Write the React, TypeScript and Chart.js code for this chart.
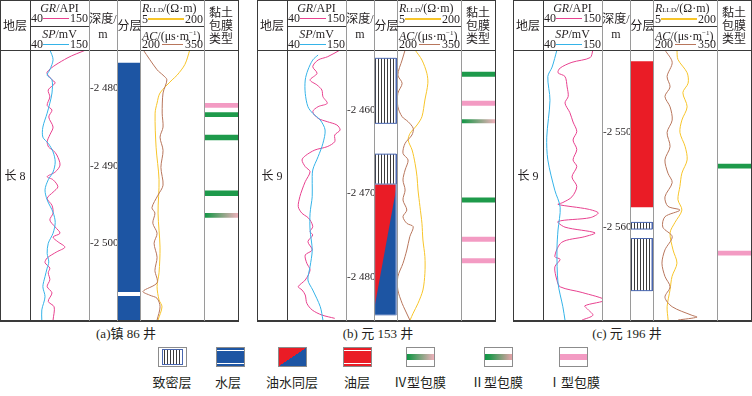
import React, { useEffect, useRef } from "react";
import { Chart, registerables } from "chart.js";
Chart.register(...registerables);

const SERIF = '"Liberation Serif", "Times New Roman", "Noto Sans CJK SC", serif';

// ---------- colours ----------
const GR_COLOR = "#e8418f";
const SP_COLOR = "#35b3e8";
const R_COLOR = "#f7c52a";
const AC_COLOR = "#b8765c";
const WATER = "#1d55a3";
const OIL = "#ea1c26";
const TIGHT_EDGE = "#4a67b0";
const GREEN = "#1e9a4b";
const PINK = "#f39bc3";
const DARK = "#3a3a3a";
const GRAY = "#9a9a9a";

// ---------- scales from the header ----------
const GR_SCALE = [40, 150];
const SP_SCALE = [40, 150];
const R_SCALE = [5, 200];
const AC_SCALE = [200, 350];

// ---------- Well (a) 镇86 ----------
const A_RANGE = [-2509.9, -2475.05];
const A_TICKS = [-2480, -2490, -2500];
const A_GR_D = [-2475.0, -2476.1, -2477.9, -2478.9, -2479.3, -2480.2, -2481.1, -2482.2, -2482.8, -2483.7, -2485.0, -2486.0, -2486.9, -2487.6, -2488.0, -2488.6, -2489.9, -2490.8, -2491.4, -2491.8, -2492.7, -2493.4, -2494.2, -2495.1, -2496.1, -2497.0, -2497.9, -2498.7, -2499.2, -2499.8, -2500.5, -2501.1, -2501.9, -2502.5, -2503.2, -2503.8, -2504.7, -2505.6, -2506.4, -2507.5, -2508.2, -2509.9];
const A_GR = [146, 109, 72, 81, 87, 74, 77, 72, 81, 75, 83, 77, 72, 75, 83, 90, 96, 87, 72, 83, 92, 83, 72, 81, 83, 77, 87, 96, 83, 92, 105, 90, 72, 68, 77, 74, 77, 72, 81, 74, 85, 83];
const A_SP_D = [-2475.0, -2476.3, -2477.6, -2478.3, -2478.9, -2480.6, -2481.9, -2483.2, -2485.0, -2486.3, -2487.1, -2488.2, -2489.5, -2490.8, -2491.8, -2493.1, -2494.4, -2496.0, -2497.3, -2498.7, -2500.0, -2501.3, -2502.4, -2503.2, -2504.3, -2505.6, -2506.9, -2508.6, -2509.9];
const A_SP = [77, 83, 77, 72, 81, 81, 77, 72, 64, 64, 74, 83, 87, 83, 74, 68, 72, 83, 87, 83, 74, 72, 75, 72, 68, 64, 68, 62, 62];
const A_R_D = [-2475.0, -2476.9, -2478.3, -2478.9, -2480.6, -2481.9, -2483.2, -2487.6, -2491.8, -2496.1, -2500.5, -2503.8, -2505.6, -2507.3, -2508.2, -2509.9];
const A_R = [157, 142, 118, 103, 66, 57, 51, 54, 63, 60, 66, 63, 57, 63, 72, 60];
const A_AC_D = [-2475.0, -2477.6, -2478.3, -2478.9, -2480.6, -2483.2, -2485.0, -2486.3, -2488.0, -2490.2, -2492.5, -2493.8, -2495.4, -2496.1, -2497.4, -2498.7, -2500.0, -2501.8, -2503.5, -2505.1, -2506.2, -2506.7, -2507.1, -2508.2, -2509.9];
const A_AC = [207, 240, 254, 263, 254, 252, 254, 247, 254, 249, 254, 242, 228, 235, 230, 240, 233, 240, 235, 240, 207, 223, 240, 247, 240];
const A_LAYER_KIND = ["water", "water"];
const A_LAYER_TOP = [-2476.7, -2506.8];
const A_LAYER_BASE = [-2506.3, -2509.9];
const A_CLAY_KIND = ["I", "III", "III", "III", "IV"];
const A_CLAY_TOP = [-2481.9, -2483.1, -2486.0, -2493.2, -2496.1];
const A_CLAY_BASE = [-2482.5, -2483.7, -2486.7, -2493.9, -2496.7];

// ---------- Well (b) 元153 ----------
const B_RANGE = [-2485.2, -2452.8];
const B_TICKS = [-2460, -2470, -2480];
const B_GR_D = [-2452.8, -2453.6, -2454.0, -2454.8, -2455.6, -2456.4, -2457.0, -2457.6, -2458.4, -2459.2, -2459.6, -2460.2, -2461.0, -2461.4, -2461.8, -2462.4, -2463.0, -2463.8, -2464.4, -2464.8, -2465.5, -2466.0, -2466.8, -2467.4, -2468.6, -2469.6, -2470.4, -2471.6, -2472.4, -2472.8, -2473.2, -2474.0, -2474.6, -2475.0, -2475.8, -2476.8, -2477.4, -2478.4, -2479.2, -2480.4, -2481.2, -2481.6, -2482.2, -2483.2, -2484.0, -2484.6, -2485.0];
const B_GR = [139, 116, 98, 88, 96, 83, 96, 105, 107, 115, 98, 88, 98, 115, 133, 139, 129, 129, 115, 92, 74, 68, 74, 83, 74, 68, 64, 61, 68, 77, 83, 88, 83, 88, 79, 87, 74, 77, 83, 74, 61, 68, 74, 77, 87, 105, 129];
const B_SP_D = [-2453.4, -2454.0, -2455.2, -2456.4, -2458.0, -2459.6, -2460.4, -2461.2, -2462.4, -2464.0, -2465.6, -2467.2, -2468.8, -2470.4, -2472.4, -2474.4, -2476.8, -2478.8, -2480.4, -2481.6, -2483.6, -2485.2];
const B_SP = [98, 88, 79, 74, 74, 79, 88, 102, 111, 107, 98, 88, 87, 87, 83, 83, 87, 83, 79, 88, 102, 107];
const B_R_D = [-2452.8, -2454.0, -2455.6, -2456.8, -2458.8, -2460.8, -2461.8, -2462.8, -2463.6, -2464.8, -2466.4, -2468.0, -2469.6, -2471.6, -2473.6, -2475.6, -2477.6, -2479.6, -2481.6, -2483.2, -2484.4, -2485.2];
const B_R = [60, 81, 96, 99, 90, 81, 66, 45, 39, 51, 60, 66, 69, 75, 81, 84, 90, 90, 84, 69, 54, 45];
const B_AC_D = [-2452.8, -2454.0, -2455.8, -2456.8, -2458.0, -2459.6, -2460.8, -2461.4, -2462.2, -2463.0, -2464.0, -2465.2, -2466.0, -2467.2, -2468.4, -2469.6, -2470.8, -2472.0, -2472.8, -2473.6, -2474.0, -2475.2, -2476.8, -2478.4, -2480.0, -2481.6, -2483.2, -2484.0, -2485.2];
const B_AC = [219, 212, 202, 212, 202, 202, 212, 226, 238, 235, 219, 214, 226, 219, 214, 219, 214, 223, 214, 223, 238, 230, 223, 214, 202, 202, 212, 219, 230];
const B_LAYER_KIND = ["tight", "tight", "oilwater"];
const B_LAYER_TOP = [-2453.8, -2465.3, -2468.9];
const B_LAYER_BASE = [-2461.6, -2468.9, -2484.6];
const B_OILWATER_SPLIT = -2484.0;
const B_CLAY_KIND = ["III", "I", "IV", "III", "I", "I"];
const B_CLAY_TOP = [-2455.4, -2458.9, -2461.1, -2470.5, -2475.2, -2477.8];
const B_CLAY_BASE = [-2456.0, -2459.5, -2461.6, -2471.1, -2475.8, -2478.4];

// ---------- Well (c) 元196 ----------
const C_RANGE = [-2569.8, -2541.3];
const C_TICKS = [-2550, -2560];
const C_GR_D = [-2541.3, -2542.1, -2542.6, -2543.2, -2543.7, -2544.1, -2545.2, -2546.2, -2546.9, -2547.9, -2548.9, -2549.9, -2550.8, -2551.8, -2552.9, -2553.6, -2554.7, -2555.7, -2556.8, -2557.4, -2557.6, -2558.1, -2558.5, -2559.0, -2559.4, -2560.0, -2560.6, -2561.0, -2561.6, -2563.1, -2563.4, -2564.2, -2565.6, -2566.3, -2566.9, -2567.7, -2568.3, -2568.7, -2569.3, -2569.8];
const C_GR = [133, 128, 94, 72, 68, 81, 85, 87, 81, 90, 96, 103, 96, 103, 96, 103, 94, 103, 94, 77, 68, 124, 143, 128, 68, 81, 137, 118, 75, 62, 72, 62, 66, 72, 113, 155, 118, 124, 133, 113];
const C_SP_D = [-2541.3, -2543.1, -2544.1, -2546.6, -2550.5, -2552.9, -2556.1, -2557.9, -2560.3, -2562.4, -2565.9, -2568.4, -2569.8];
const C_SP = [66, 57, 49, 53, 47, 49, 62, 72, 68, 66, 68, 77, 81];
const C_R_D = [-2541.3, -2542.3, -2543.7, -2544.8, -2545.8, -2547.3, -2548.7, -2550.0, -2551.5, -2552.9, -2554.3, -2555.7, -2557.1, -2558.2, -2559.5, -2560.6, -2562.4, -2563.8, -2565.2, -2566.6, -2568.4, -2569.8];
const C_R = [78, 81, 109, 112, 96, 109, 93, 87, 103, 109, 93, 87, 81, 93, 72, 57, 66, 78, 63, 57, 48, 51];
const C_AC_D = [-2541.3, -2542.6, -2544.1, -2545.2, -2546.2, -2547.3, -2548.7, -2550.0, -2551.5, -2552.9, -2554.3, -2555.3, -2556.8, -2557.8, -2558.2, -2558.9, -2560.0, -2561.0, -2562.4, -2563.8, -2565.2, -2566.3, -2567.4, -2568.4, -2569.3, -2569.5, -2569.8];
const C_AC = [228, 245, 233, 240, 228, 240, 245, 233, 240, 228, 235, 245, 228, 235, 263, 228, 223, 245, 228, 221, 228, 240, 228, 245, 291, 303, 259];
const C_LAYER_KIND = ["oil", "tight", "tight"];
const C_LAYER_TOP = [-2542.5, -2559.5, -2561.2];
const C_LAYER_BASE = [-2557.9, -2560.2, -2566.7];
const C_CLAY_KIND = ["III", "I"];
const C_CLAY_TOP = [-2553.3, -2562.5];
const C_CLAY_BASE = [-2553.8, -2563.0];

// ---------- texts ----------
const ZONES = ["长 8", "长 9", "长 9"];
const CAPTIONS = ["(a)镇 86 井", "(b) 元 153 井", "(c) 元 196 井"];
const LEGEND_KINDS = ["tight", "water", "oilwater", "oil", "IV", "II", "I"];
const LEGEND_LABELS = ["致密层", "水层", "油水同层", "油层", "Ⅳ型包膜", "Ⅱ型包膜", "Ⅰ型包膜"];

// ---------- layout ----------
const OX = [0, 257, 513];
const CAP_X = [126, 378, 627];
const COLS = [0, 30, 89, 117, 140, 204, 238];
const BODY_TOP = 50;
const BODY_BOTTOM = 320;
const HEADER_MID = 26;
const LEG_X = [158, 216, 278, 343, 406, 484, 559];
const LEG_LABEL_X = [172, 228, 292, 357, 420, 497, 574];

type Well = {
  range: number[]; ticks: number[];
  grD: number[]; gr: number[]; spD: number[]; sp: number[];
  rD: number[]; r: number[]; acD: number[]; ac: number[];
  layerKind: string[]; layerTop: number[]; layerBase: number[]; split?: number;
  clayKind: string[]; clayTop: number[]; clayBase: number[];
};

const WELLS: Well[] = [
  { range: A_RANGE, ticks: A_TICKS, grD: A_GR_D, gr: A_GR, spD: A_SP_D, sp: A_SP, rD: A_R_D, r: A_R, acD: A_AC_D, ac: A_AC,
    layerKind: A_LAYER_KIND, layerTop: A_LAYER_TOP, layerBase: A_LAYER_BASE, clayKind: A_CLAY_KIND, clayTop: A_CLAY_TOP, clayBase: A_CLAY_BASE },
  { range: B_RANGE, ticks: B_TICKS, grD: B_GR_D, gr: B_GR, spD: B_SP_D, sp: B_SP, rD: B_R_D, r: B_R, acD: B_AC_D, ac: B_AC,
    layerKind: B_LAYER_KIND, layerTop: B_LAYER_TOP, layerBase: B_LAYER_BASE, split: B_OILWATER_SPLIT, clayKind: B_CLAY_KIND, clayTop: B_CLAY_TOP, clayBase: B_CLAY_BASE },
  { range: C_RANGE, ticks: C_TICKS, grD: C_GR_D, gr: C_GR, spD: C_SP_D, sp: C_SP, rD: C_R_D, r: C_R, acD: C_AC_D, ac: C_AC,
    layerKind: C_LAYER_KIND, layerTop: C_LAYER_TOP, layerBase: C_LAYER_BASE, clayKind: C_CLAY_KIND, clayTop: C_CLAY_TOP, clayBase: C_CLAY_BASE },
];

// ---------- chart helpers ----------
const COMMON: any = {
  responsive: false,
  animation: false,
  devicePixelRatio: 1,
  events: [],
  layout: { padding: 0 },
  plugins: { legend: { display: false }, tooltip: { enabled: false } },
};

const pts = (d: number[], v: number[]) => d.map((y, i) => ({ x: v[i], y }));

const curve = (d: number[], v: number[], color: string, axis: string) => ({
  data: pts(d, v), borderColor: color, borderWidth: 1, showLine: true, pointRadius: 0,
  tension: 0.3, fill: false, xAxisID: axis,
});

const poly = (data: { x: number; y: number }[], fillTo: number, color: any) => ({
  data, showLine: true, pointRadius: 0, borderWidth: 0, borderColor: "rgba(0,0,0,0)",
  backgroundColor: color, fill: { value: fillTo }, tension: 0,
});

const outline = (top: number, base: number, color: string) => ({
  data: [{ x: 0.03, y: top }, { x: 0.97, y: top }, { x: 0.97, y: base }, { x: 0.03, y: base }, { x: 0.03, y: top }],
  showLine: true, pointRadius: 0, borderWidth: 1, borderColor: color, fill: false, tension: 0,
});

const yScale = (w: Well) => ({ type: "linear", min: w.range[0], max: w.range[1], display: false });

const fmtDepth = (v: number) => {
  const s = String(Math.abs(v));
  return (v < 0 ? "-" : "") + s.slice(0, 1) + " " + s.slice(1);
};

function grspConfig(w: Well) {
  return () => ({
    type: "scatter",
    data: { datasets: [curve(w.spD, w.sp, SP_COLOR, "xSP"), curve(w.grD, w.gr, GR_COLOR, "xGR")] },
    options: {
      ...COMMON,
      scales: {
        xGR: { type: "linear", axis: "x", display: false, min: GR_SCALE[0], max: GR_SCALE[1] },
        xSP: { type: "linear", axis: "x", display: false, min: SP_SCALE[0], max: SP_SCALE[1] },
        y: yScale(w),
      },
    },
  });
}

function racConfig(w: Well) {
  return () => ({
    type: "scatter",
    data: { datasets: [curve(w.acD, w.ac, AC_COLOR, "xAC"), curve(w.rD, w.r, R_COLOR, "xR")] },
    options: {
      ...COMMON,
      scales: {
        xR: { type: "linear", axis: "x", display: false, min: R_SCALE[0], max: R_SCALE[1] },
        xAC: { type: "linear", axis: "x", display: false, min: AC_SCALE[0], max: AC_SCALE[1] },
        y: yScale(w),
      },
    },
  });
}

function depthConfig(w: Well) {
  return () => ({
    type: "scatter",
    data: { datasets: [] },
    options: {
      ...COMMON,
      scales: {
        x: { type: "linear", display: false, min: 0, max: 1 },
        y: {
          type: "linear", min: w.range[0], max: w.range[1], position: "left",
          grid: { display: false, drawTicks: false }, border: { display: false },
          afterBuildTicks: (s: any) => { s.ticks = w.ticks.map((v) => ({ value: v })); },
          afterFit: (s: any) => { s.width = 0; s.paddingTop = 0; s.paddingBottom = 0; },
          ticks: { mirror: true, padding: 0, autoSkip: false, color: "#231f20",
            font: { family: SERIF, size: 11 }, callback: (v: number) => fmtDepth(v) },
        },
      },
    },
  });
}

function tightPattern(canvas: HTMLCanvasElement) {
  const pc = document.createElement("canvas");
  pc.width = 3; pc.height = 4;
  const p = pc.getContext("2d")!;
  p.fillStyle = "#fff"; p.fillRect(0, 0, 3, 4);
  p.fillStyle = "#3c3c3c"; p.fillRect(1, 0, 1, 4);
  return canvas.getContext("2d")!.createPattern(pc, "repeat");
}

function layerConfig(w: Well) {
  return (canvas: HTMLCanvasElement) => {
    const pattern = tightPattern(canvas);
    const sets: any[] = [];
    w.layerKind.forEach((k, i) => {
      const t = w.layerTop[i], b = w.layerBase[i];
      const flat = [{ x: 0, y: t }, { x: 1, y: t }];
      if (k === "water") sets.push(poly(flat, b, WATER));
      else if (k === "oil") sets.push(poly(flat, b, OIL));
      else if (k === "tight") { sets.push(poly(flat, b, pattern)); sets.push(outline(t, b, TIGHT_EDGE)); }
      else if (k === "oilwater") {
        sets.push(poly(flat, b, WATER));
        sets.push(poly([{ x: 0, y: w.split as number }, { x: 1, y: t }], t, OIL));
        sets.push(outline(t, b, "#8fa4d0"));
      }
    });
    return {
      type: "scatter",
      data: { datasets: sets.reverse() },
      options: { ...COMMON, scales: { x: { type: "linear", display: false, min: 0, max: 1 }, y: yScale(w) } },
    };
  };
}

function clayConfig(w: Well) {
  return (canvas: HTMLCanvasElement) => {
    const ctx = canvas.getContext("2d")!;
    const grad = (end: string, g: number) => {
      const gr = ctx.createLinearGradient(0, 0, canvas.width, 0);
      gr.addColorStop(0, "#0f9647");
      gr.addColorStop(g, "#27994f");
      gr.addColorStop(1, end);
      return gr;
    };
    const color: Record<string, any> = { I: PINK, III: GREEN, IV: grad("#eeb1bb", 0.12), II: grad("#e5a3a9", 0.2) };
    const sets = w.clayKind.map((k, i) =>
      poly([{ x: 0, y: w.clayTop[i] }, { x: 1, y: w.clayTop[i] }], w.clayBase[i], color[k]));
    return {
      type: "scatter",
      data: { datasets: sets },
      options: { ...COMMON, scales: { x: { type: "linear", display: false, min: 0, max: 1 }, y: yScale(w) } },
    };
  };
}

function ChartBox({ x, y, w, h, make, z = 1 }: { x: number; y: number; w: number; h: number; make: (c: HTMLCanvasElement) => any; z?: number }) {
  const ref = useRef<HTMLCanvasElement>(null);
  useEffect(() => {
    const c = ref.current as HTMLCanvasElement;
    const chart = new Chart(c, make(c));
    return () => chart.destroy();
  }, []);
  return <canvas ref={ref} width={w} height={h} style={{ position: "absolute", left: x, top: y, width: w, height: h, zIndex: z }} />;
}

// ---------- html helpers ----------
const Ln = ({ x, y, w, h, c }: { x: number; y: number; w: number; h: number; c: string }) => (
  <div style={{ position: "absolute", left: x, top: y, width: w, height: h, background: c, zIndex: 3 }} />
);

const T = ({ x, y, w, children, align = "center", size = 12 }: any) => (
  <div style={{ position: "absolute", left: x, top: y - 8, width: w, height: 16, lineHeight: "16px", textAlign: align,
    fontSize: size, whiteSpace: "nowrap", zIndex: 4 }}>{children}</div>
);

function Panel({ well, idx }: { well: Well; idx: number }) {
  const ox = OX[idx];
  const c = COLS.map((v) => ox + v);
  const H = BODY_BOTTOM - BODY_TOP;
  return (
    <>
      <ChartBox x={c[1]} y={BODY_TOP} w={c[2] - c[1]} h={H} make={grspConfig(well)} />
      <ChartBox x={c[3]} y={BODY_TOP} w={c[4] - c[3]} h={H} make={layerConfig(well)} />
      <ChartBox x={c[2] + 1} y={BODY_TOP} w={30} h={H} make={depthConfig(well)} z={2} />
      <ChartBox x={c[4]} y={BODY_TOP} w={c[5] - c[4]} h={H} make={racConfig(well)} />
      <ChartBox x={c[5]} y={BODY_TOP} w={c[6] - c[5]} h={H} make={clayConfig(well)} />

      {/* frame */}
      <Ln x={c[0]} y={0} w={c[6] - c[0] + 1} h={1} c={DARK} />
      <Ln x={c[0]} y={BODY_TOP} w={c[6] - c[0] + 1} h={1} c={DARK} />
      <Ln x={c[0]} y={BODY_BOTTOM} w={c[6] - c[0] + 1} h={1.5} c={DARK} />
      <Ln x={c[0]} y={0} w={1} h={BODY_BOTTOM + 1} c={DARK} />
      <Ln x={c[6]} y={0} w={1} h={BODY_BOTTOM + 1} c={DARK} />
      <Ln x={c[1]} y={0} w={1} h={BODY_BOTTOM + 1} c={DARK} />
      {[c[2], c[3], c[4], c[5]].map((x, i) => (
        <Ln key={i} x={x - 0.5} y={0} w={1.6} h={BODY_BOTTOM + 1} c={GRAY} />
      ))}
      <Ln x={c[1]} y={HEADER_MID} w={c[2] - c[1]} h={1} c={DARK} />
      <Ln x={c[4]} y={HEADER_MID} w={c[5] - c[4]} h={1} c={DARK} />

      {/* header texts */}
      <T x={c[0]} y={26} w={c[1] - c[0]}>地层</T>
      <T x={c[1]} y={8} w={c[2] - c[1]}><i>GR</i>/API</T>
      <T x={c[1] + 1} y={18} w={20} align="left">40</T>
      <T x={c[2] - 30} y={18} w={29} align="right">150</T>
      <Ln x={c[1] + 13} y={17.5} w={26} h={1.6} c={GR_COLOR} />
      <T x={c[1]} y={34} w={c[2] - c[1]}><i>SP</i>/mV</T>
      <T x={c[1] + 1} y={44} w={20} align="left">40</T>
      <T x={c[2] - 30} y={44} w={29} align="right">150</T>
      <Ln x={c[1] + 13} y={43.5} w={26} h={1.6} c={SP_COLOR} />

      <T x={c[2]} y={19} w={c[3] - c[2]}>深度/</T>
      <T x={c[2]} y={34} w={c[3] - c[2]}>m</T>
      <T x={c[3]} y={26} w={c[4] - c[3] + 2}>分层</T>

      <T x={c[4] + 2} y={8} w={62} align="left">
        <i>R</i><span style={{ fontSize: 7 }}>LLD</span>/(Ω·m)
      </T>
      <T x={c[4] + 2} y={19} w={20} align="left">5</T>
      <T x={c[5] - 30} y={19} w={29} align="right">200</T>
      <Ln x={c[4] + 8} y={18} w={36} h={1.6} c={R_COLOR} />
      <T x={c[4] + 2} y={33} w={62} align="left">
        <i>AC</i>/(μs·m<sup style={{ fontSize: 7 }}>−1</sup>)
      </T>
      <T x={c[4] + 2} y={44} w={20} align="left">200</T>
      <T x={c[5] - 30} y={44} w={29} align="right">350</T>
      <Ln x={c[4] + 22} y={43.5} w={21} h={1.6} c={AC_COLOR} />

      <T x={c[5]} y={13} w={c[6] - c[5]}>黏土</T>
      <T x={c[5]} y={26} w={c[6] - c[5]}>包膜</T>
      <T x={c[5]} y={39} w={c[6] - c[5]}>类型</T>

      <T x={c[0]} y={176} w={c[1] - c[0]}>{ZONES[idx]}</T>
      <T x={CAP_X[idx] - 60} y={334} w={120} size={13}>{CAPTIONS[idx]}</T>
    </>
  );
}

function Patch({ kind, x }: { kind: string; x: number }) {
  const box: any = { position: "absolute", left: x, top: 347, width: 29, height: 20, boxSizing: "border-box",
    border: "1px solid #8c8c8c", background: "#fff", overflow: "hidden" };
  let inner: any = null;
  if (kind === "tight") {
    inner = <div style={{ position: "absolute", left: 3, right: 3, top: 1, bottom: 1, border: `1px solid ${TIGHT_EDGE}`,
      background: "repeating-linear-gradient(to right, #fff 0 1px, #3c3c3c 1px 2px, #fff 2px 3px)" }} />;
  } else if (kind === "water" || kind === "oil") {
    const col = kind === "water" ? WATER : OIL;
    inner = <>
      <div style={{ position: "absolute", left: 0, right: 0, top: 0, bottom: 0, background: col }} />
      <div style={{ position: "absolute", left: 0, right: 0, top: 2, height: 1, background: "#fff" }} />
      <div style={{ position: "absolute", left: 0, right: 0, bottom: 2, height: 1, background: "#fff" }} />
    </>;
  } else if (kind === "oilwater") {
    inner = <div style={{ position: "absolute", left: 0, right: 0, top: 0, bottom: 0,
      background: `linear-gradient(to bottom right, ${OIL} 50%, ${WATER} 50%)` }} />;
  } else {
    const bg = kind === "I" ? PINK
      : kind === "IV" ? "linear-gradient(to right, #0f9647 0%, #27994f 12%, #eeb1bb 100%)"
      : "linear-gradient(to right, #0f9647 0%, #27994f 20%, #e5a3a9 100%)";
    inner = <div style={{ position: "absolute", left: 0, right: 0, top: 6, height: 6, background: bg }} />;
  }
  return <div style={box}>{inner}</div>;
}

function Legend() {
  return (
    <>
      {LEGEND_KINDS.map((k, i) => <Patch key={k} kind={k} x={LEG_X[i]} />)}
      {LEGEND_LABELS.map((l, i) => (
        <T key={l} x={LEG_LABEL_X[i] - 40} y={383} w={80} size={13}>{l}</T>
      ))}
    </>
  );
}

export default function App() {
  return (
    <div style={{ position: "fixed", left: 0, top: 0, width: 752, height: 396, background: "#fff", overflow: "hidden",
      fontFamily: SERIF, color: "#231f20" }}>
      {WELLS.map((w, i) => <Panel key={i} well={w} idx={i} />)}
      <Legend />
    </div>
  );
}
